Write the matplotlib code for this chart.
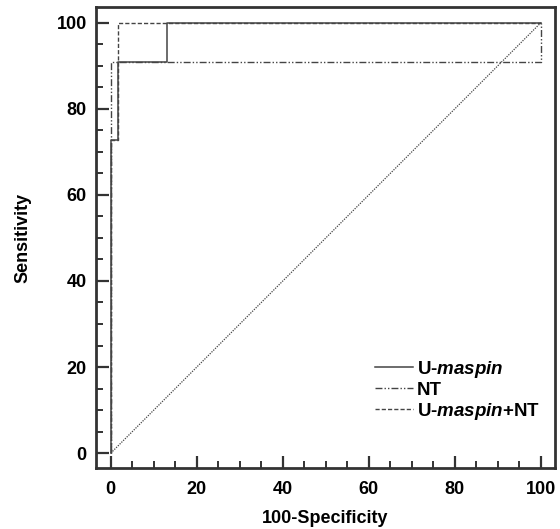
import matplotlib
matplotlib.use('Agg')
import matplotlib.pyplot as plt
from matplotlib.ticker import MultipleLocator

plt.rcParams['font.family'] = 'Liberation Sans'
plt.rcParams['font.weight'] = 'bold'
plt.rcParams['mathtext.fontset'] = 'custom'
plt.rcParams['mathtext.it'] = 'Liberation Sans:italic:bold'
plt.rcParams['mathtext.rm'] = 'Liberation Sans:bold'

# ROC curve points (100-Specificity, Sensitivity)
umaspin_x = [0, 0, 1.7, 1.7, 13, 13, 100]
umaspin_y = [0, 72.7, 72.7, 90.9, 90.9, 100, 100]

nt_x = [0, 0, 100, 100]
nt_y = [0, 90.9, 90.9, 100]

combo_x = [0, 0, 1.7, 1.7, 100]
combo_y = [0, 72.7, 72.7, 100, 100]

diag_x = [0, 100]
diag_y = [0, 100]

labels = [r'U-$\mathit{maspin}$', 'NT', r'U-$\mathit{maspin}$+NT']

fig = plt.figure(figsize=(5.6, 5.29), dpi=100)
ax = fig.add_axes([0.171, 0.115, 0.820, 0.872])

line_col = '#444444'
ax.plot(umaspin_x, umaspin_y, color=line_col, lw=1.1, ls='-', label=labels[0])
ax.plot(nt_x, nt_y, color=line_col, lw=1.0, ls=(0, (5, 1.5, 1, 1.5, 1, 1.5)), label=labels[1])
ax.plot(combo_x, combo_y, color=line_col, lw=1.0, ls=(0, (3, 1.5)), label=labels[2])
ax.plot(diag_x, diag_y, color=line_col, lw=0.9, ls=(0, (1, 1)))

ax.set_xlim(-3.5, 103.3)
ax.set_ylim(-3.5, 103.7)

ax.xaxis.set_major_locator(MultipleLocator(20))
ax.xaxis.set_minor_locator(MultipleLocator(5))
ax.yaxis.set_major_locator(MultipleLocator(20))
ax.yaxis.set_minor_locator(MultipleLocator(5))
ax.tick_params(which='major', direction='in', length=9, width=1.6, color='#333333',
               labelsize=13)
ax.tick_params(axis='x', which='major', pad=9)
ax.tick_params(axis='y', which='major', pad=6.5)
ax.tick_params(which='minor', direction='in', length=5, width=1.4, color='#333333')
for lab in ax.get_xticklabels() + ax.get_yticklabels():
    lab.set_fontweight('bold')

for sp in ax.spines.values():
    sp.set_linewidth(2.0)
    sp.set_color('#333333')

ax.set_xlabel('100-Specificity', fontsize=13, fontweight='bold', labelpad=9)
ax.set_ylabel('Sensitivity', fontsize=13, fontweight='bold', labelpad=18)

leg = ax.legend(loc='lower right', bbox_to_anchor=(1.005, 0.064), frameon=False,
                fontsize=13.5, handlelength=2.0, handletextpad=0.25, labelspacing=0.1)

fig.savefig('out.png', dpi=100)
